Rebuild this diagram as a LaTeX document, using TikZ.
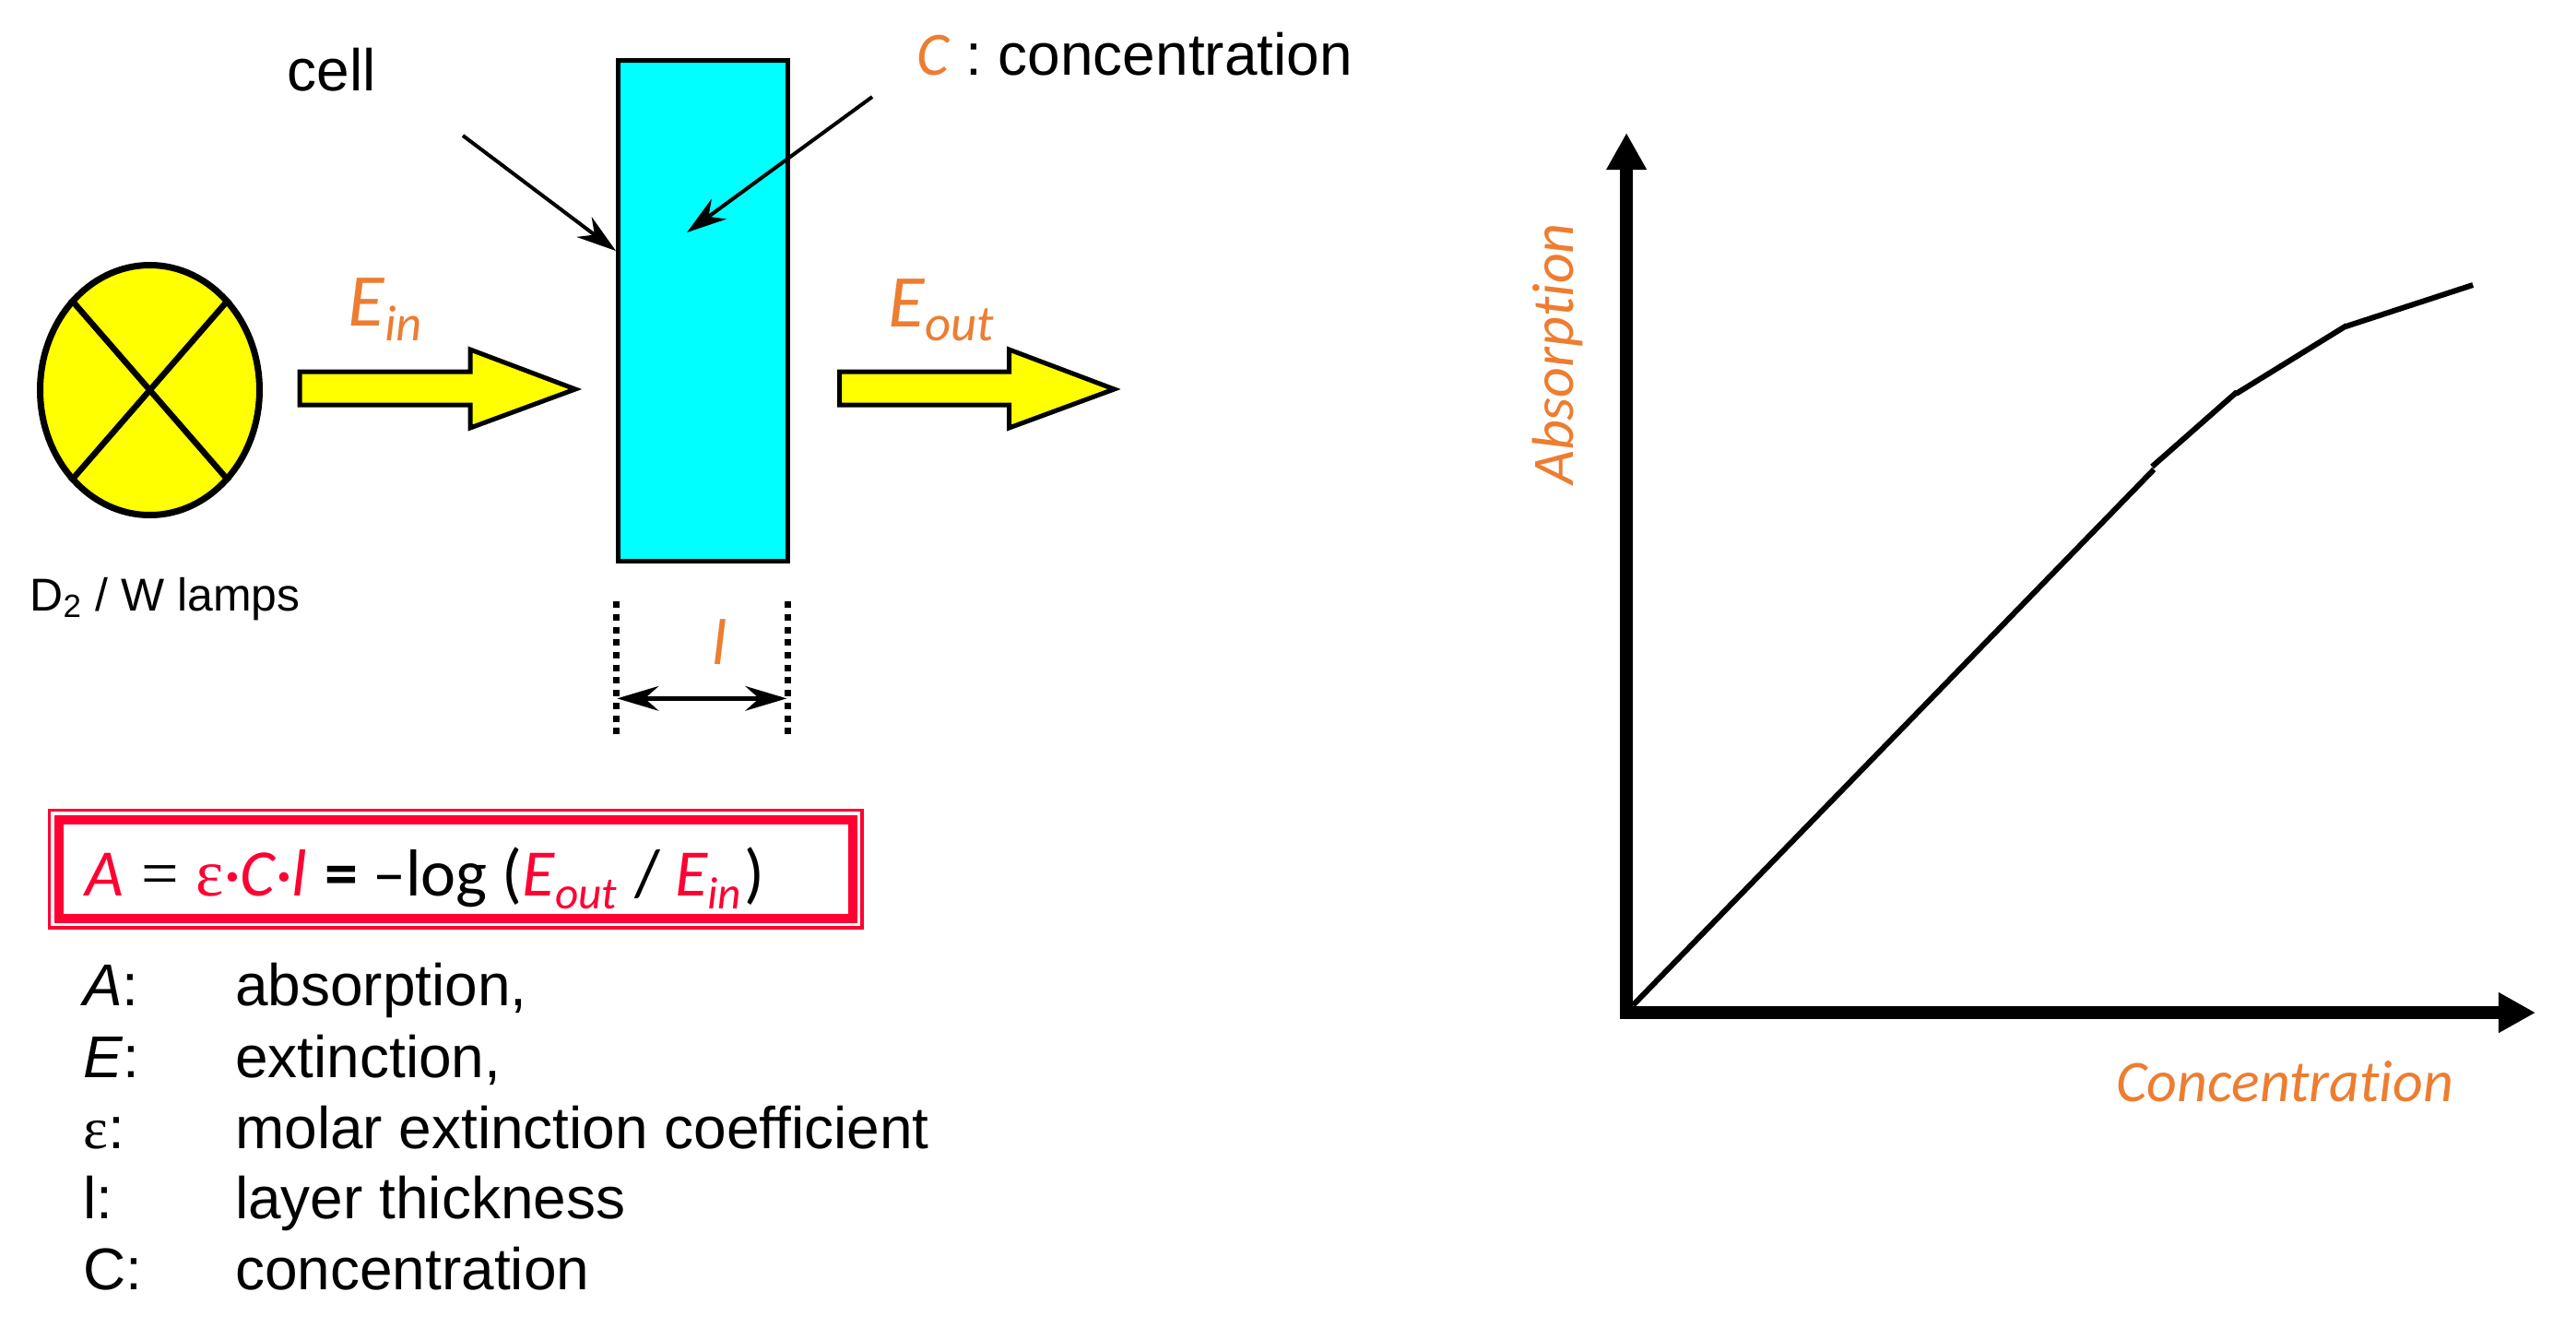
\documentclass[tikz,border=0pt]{standalone}
\usepackage{amsmath}
\usepackage{fontspec}
\setmainfont{Liberation Sans}
\newfontfamily\calfont[Ligatures=NoCommon]{Carlito}
\newfontfamily\symfont{Liberation Serif}
\usetikzlibrary{arrows.meta,shapes.geometric}
\definecolor{beamorange}{HTML}{ED7D31}
\definecolor{boxred}{HTML}{FF0033}
\definecolor{lampyellow}{HTML}{FFFF00}
\definecolor{cellcyan}{HTML}{00FFFF}
\newcommand{\lowtext}[3]{\raisebox{-#2}{\fontsize{#1}{#1}\selectfont #3}}
\tikzset{
  textlabel/.style={anchor=base west,inner sep=0pt,font=\fontsize{18.2}{22}\selectfont},
  smalllabel/.style={anchor=base west,inner sep=0pt,font=\fontsize{14.2}{17}\selectfont},
  orangelabel/.style={anchor=base west,inner sep=0pt,text=beamorange,font=\calfont\itshape\fontsize{23}{26}\selectfont},
  thicklabel/.style={anchor=base west,inner sep=0pt,text=beamorange,font=\calfont\itshape\fontsize{20}{24}\selectfont},
  axislabel/.style={inner sep=0pt,text=beamorange,font=\calfont\itshape\fontsize{18.2}{22}\selectfont},
  eqlabel/.style={anchor=base west,inner sep=0pt,font=\calfont\fontsize{20.5}{25}\selectfont},
  blockarrow/.style={draw=black,fill=lampyellow,line width=0.5mm,line join=miter},
  lampline/.style={line width=0.65mm},
  pointer/.style={line width=0.4mm,-{Stealth[length=4.3mm,width=2.7mm,inset=1.4mm]}},
  dotline/.style={line width=0.7mm,dash pattern=on 0.7mm off 0.673mm},
  axisline/.style={line width=1.35mm,-{Triangle[length=4mm,width=4.1mm]}},
  curve/.style={line width=0.6mm}
}
\begin{document}
\begin{tikzpicture}[scale=0.1]
\useasboundingbox (0,0) rectangle (279.4,-145.3);
% lamp
\node (lamp) [draw=black,fill=lampyellow,ellipse,line width=0.7mm,inner sep=0pt,minimum width=2.38cm,minimum height=2.71cm] at (16.25,-42.3) {};
\draw [lampline] (lamp.131) -- (lamp.311);
\draw [lampline] (lamp.49) -- (lamp.229);
\node (lamptext) [smalllabel] at (3.2,-66.23) {D$_{\text{2}}$ / W lamps};
% beam
\draw [blockarrow] (32.5,-40.3) -- (51,-40.3) -- (51,-37.9) -- (62.4,-42.2) -- (51,-46.4) -- (51,-43.9) -- (32.5,-43.9) -- cycle;
\draw [blockarrow] (91.05,-40.3) -- (109.45,-40.3) -- (109.45,-37.9) -- (120.85,-42.2) -- (109.45,-46.4) -- (109.45,-43.9) -- (91.05,-43.9) -- cycle;
\node (ein) [orangelabel] at (37.7,-35.33) {E\lowtext{15.6}{1.6mm}{in}};
\node (eout) [orangelabel] at (96.3,-35.4) {E\lowtext{15.6}{1.5mm}{out}};
% cell
\node (cell) [draw=black,fill=cellcyan,line width=0.5mm,inner sep=0pt,minimum width=1.84cm,minimum height=5.44cm] at (76.2,-33.7) {};
\node (celltext) [textlabel] at (31.1,-9.83) {cell};
\node (conc) [textlabel] at (99.4,-8.1) {{\calfont\itshape\fontsize{19}{22}\selectfont\color{beamorange}C} : concentration};
\coordinate (cellfrom) at (50.2,-14.7);
\coordinate (celltip) at (66.8,-27.2);
\coordinate (concfrom) at (94.6,-10.5);
\coordinate (conctip) at (74.5,-25.2);
\draw [pointer] (cellfrom) -- (celltip);
\draw [pointer] (concfrom) -- (conctip);
% thickness
\coordinate (leftdot) at (66.83,-65.2);
\coordinate (leftend) at (66.83,-79.7);
\coordinate (rightdot) at (85.43,-65.2);
\coordinate (rightend) at (85.43,-79.7);
\draw [dotline] (leftdot) -- (leftend);
\draw [dotline] (rightdot) -- (rightend);
\coordinate (leftarrow) at (66.93,-75.73);
\coordinate (rightarrow) at (85.33,-75.73);
\draw [line width=0.47mm,{Stealth[length=4.5mm,width=2.67mm,inset=1.5mm]}-{Stealth[length=4.5mm,width=2.67mm,inset=1.5mm]}] (leftarrow) -- (rightarrow);
\node (thick) [thicklabel] at (77.2,-72.07) {l};
% formula box
\draw [boxred,line width=0.33mm] (5.37,-87.84) rectangle (93.5,-100.6);
\draw [boxred,line width=1.03mm] (6.39,-88.9) rectangle (92.53,-99.59);
\node (formula) [eqlabel] at (9.15,-97.1) {\textcolor{boxred}{\itshape A} \kern0.85pt{\symfont =} \kern0.6pt\textcolor{boxred}{{\symfont ε}\itshape ·C·l} \kern0.85pt\textbf{=} –log (\textcolor{boxred}{\itshape E\lowtext{14}{1.4mm}{out}} \kern0.85pt/ \textcolor{boxred}{\itshape E\lowtext{14}{1.4mm}{in}}\kern0.85pt)};
% legend
\node (keyA) [textlabel] at (8.95,-109) {\textit{A}:};
\node (defA) [textlabel] at (25.45,-109) {absorption,};
\node (keyE) [textlabel] at (8.95,-116.8) {\textit{E}:};
\node (defE) [textlabel] at (25.45,-116.8) {extinction,};
\node (keyeps) [textlabel] at (8.95,-124.5) {{\symfont ε}:};
\node (defeps) [textlabel] at (25.45,-124.5) {molar extinction coefficient};
\node (keyl) [textlabel] at (8.95,-132.1) {l:};
\node (defl) [textlabel] at (25.45,-132.1) {layer thickness};
\node (keyC) [textlabel] at (8.95,-139.8) {C:};
\node (defC) [textlabel] at (25.45,-139.8) {concentration};
% graph
\coordinate (corner) at (175.7,-109.8);
\coordinate (ytip) at (176.4,-14.4);
\coordinate (xtip) at (275,-109.8);
\coordinate (ybase) at (176.4,-110.45);
\draw [axisline] (ybase) -- (ytip);
\draw [axisline] (corner) -- (xtip);
\coordinate (p0) at (177.1,-109);
\coordinate (p1) at (233.6,-50.9);
\coordinate (p2) at (233.4,-50.6);
\coordinate (p3) at (242.6,-42.5);
\coordinate (p4) at (242.5,-42.7);
\coordinate (p5) at (254.5,-35.3);
\coordinate (p6) at (254.4,-35.4);
\coordinate (p7) at (268.2,-30.9);
\draw [curve] (p0) -- (p1);
\draw [curve] (p2) -- (p3);
\draw [curve] (p4) -- (p5);
\draw [curve] (p6) -- (p7);
\node (ylabel) [axislabel,rotate=90,anchor=center] at (168.9,-38.4) {Absorption};
\node (xlabel) [axislabel,anchor=base east] at (266.2,-119.4) {Concentration};
\end{tikzpicture}
\end{document}
